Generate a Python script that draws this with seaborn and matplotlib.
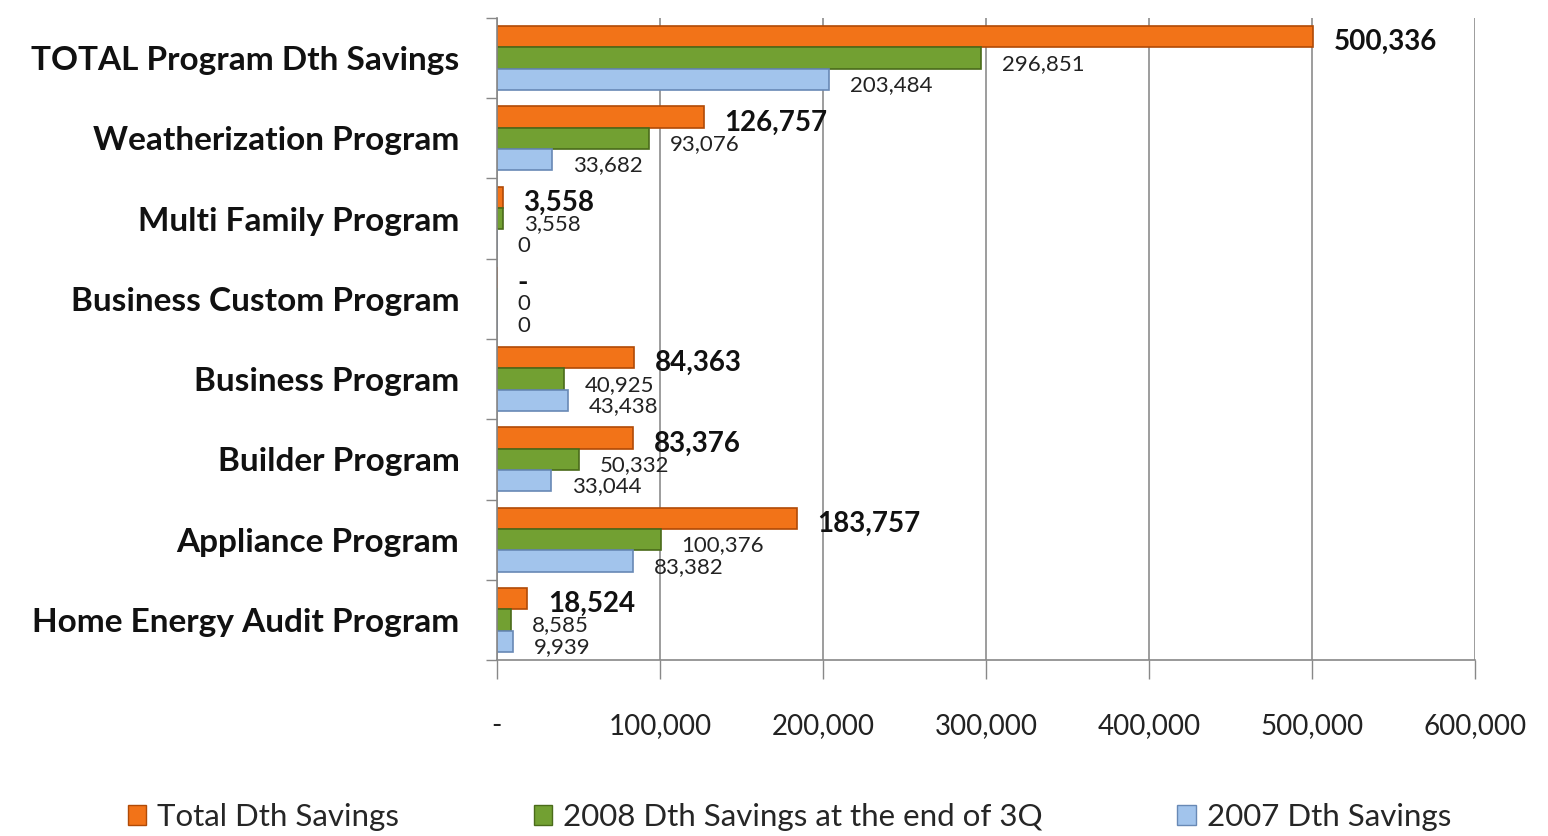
import pandas as pd
import matplotlib.pyplot as plt
import seaborn as sns
from matplotlib.patches import Patch

programs = [
    'TOTAL Program Dth Savings', 'Weatherization Program', 'Multi Family Program',
    'Business Custom Program', 'Business Program', 'Builder Program',
    'Appliance Program', 'Home Energy Audit Program'
]
series = ['Total Dth Savings', '2008 Dth Savings at the end of 3Q', '2007 Dth Savings']
total_savings = [500336, 126757, 3558, 0, 84363, 83376, 183757, 18524]
savings_2008 = [296851, 93076, 3558, 0, 40925, 50332, 100376, 8585]
savings_2007 = [203484, 33682, 0, 0, 43438, 33044, 83382, 9939]
x_ticks = [0, 100000, 200000, 300000, 400000, 500000, 600000]

colors = ['#F27318', '#72A032', '#A2C4EC']
edges = ['#B04A06', '#4A6B1A', '#6889B5']

df = pd.DataFrame({
    'Program': programs * 3,
    'Series': [s for s in series for _ in programs],
    'Value': total_savings + savings_2008 + savings_2007,
})

sns.set_style("white")
plt.rcParams['font.family'] = ['Lato', 'DejaVu Sans']

fig = plt.figure(figsize=(15.48, 8.36), dpi=100)
ax = fig.add_axes([0.321, 0.2105, 0.632, 0.768])

sns.barplot(data=df, x='Value', y='Program', hue='Series', hue_order=series,
            order=programs, palette=colors, saturation=1, orient='h',
            width=0.8, ax=ax, legend=False)

for cont, ec in zip(ax.containers, edges):
    for bar in cont:
        bar.set_edgecolor(ec)
        bar.set_linewidth(1.2)

# value labels
for i, cont in enumerate(ax.containers):
    vals = [total_savings, savings_2008, savings_2007][i]
    for bar, v in zip(cont, vals):
        if i == 0:
            txt = '-' if v == 0 else f'{v:,}'
            kw = dict(fontsize=20, fontweight='bold', color='#111111')
        else:
            txt = f'{v:,}'
            kw = dict(fontsize=16, color='#222222')
        ax.annotate(txt, (bar.get_width(), bar.get_y() + bar.get_height() / 2),
                    xytext=(15, -4), textcoords='offset points',
                    ha='left', va='center', **kw)

ax.set_xlim(0, 600000)
ax.set_ylim(7.5, -0.5)
ax.set_xticks(x_ticks)
ax.set_xticklabels(['-' if t == 0 else f'{t:,}' for t in x_ticks], fontsize=20,
                   color='#222222')
ax.tick_params(axis='x', direction='out', length=14, width=1, color='#888888',
               pad=24, bottom=True)
ax.grid(axis='x', color='#8C8C8C', linewidth=1.2)
ax.set_axisbelow(True)

# category boundaries as ticks, names centered between them
ax.set_yticks([i - 0.5 for i in range(len(programs) + 1)])
ax.set_yticklabels([])
ax.set_yticks(range(len(programs)), minor=True)
ax.set_yticklabels(programs, minor=True, fontsize=24, fontweight='bold',
                   color='#111111')
ax.tick_params(axis='y', which='major', direction='out', length=8, width=1,
               color='#888888', left=True)
ax.tick_params(axis='y', which='minor', length=0, pad=27)

for s in ['top', 'right']:
    ax.spines[s].set_visible(False)
for s in ['left', 'bottom']:
    ax.spines[s].set_color('#888888')
    ax.spines[s].set_linewidth(1.2)

ax.set_xlabel('')
ax.set_ylabel('')

handles = [Patch(facecolor=c, edgecolor=e) for c, e in zip(colors, edges)]
fig.legend(handles, series, loc='lower center', bbox_to_anchor=(0.51, -0.028),
           ncol=3, frameon=False, fontsize=22.5, handlelength=0.6,
           handleheight=0.6, handletextpad=0.35, columnspacing=4.3)

fig.savefig('out.png', dpi=100, facecolor='white')
